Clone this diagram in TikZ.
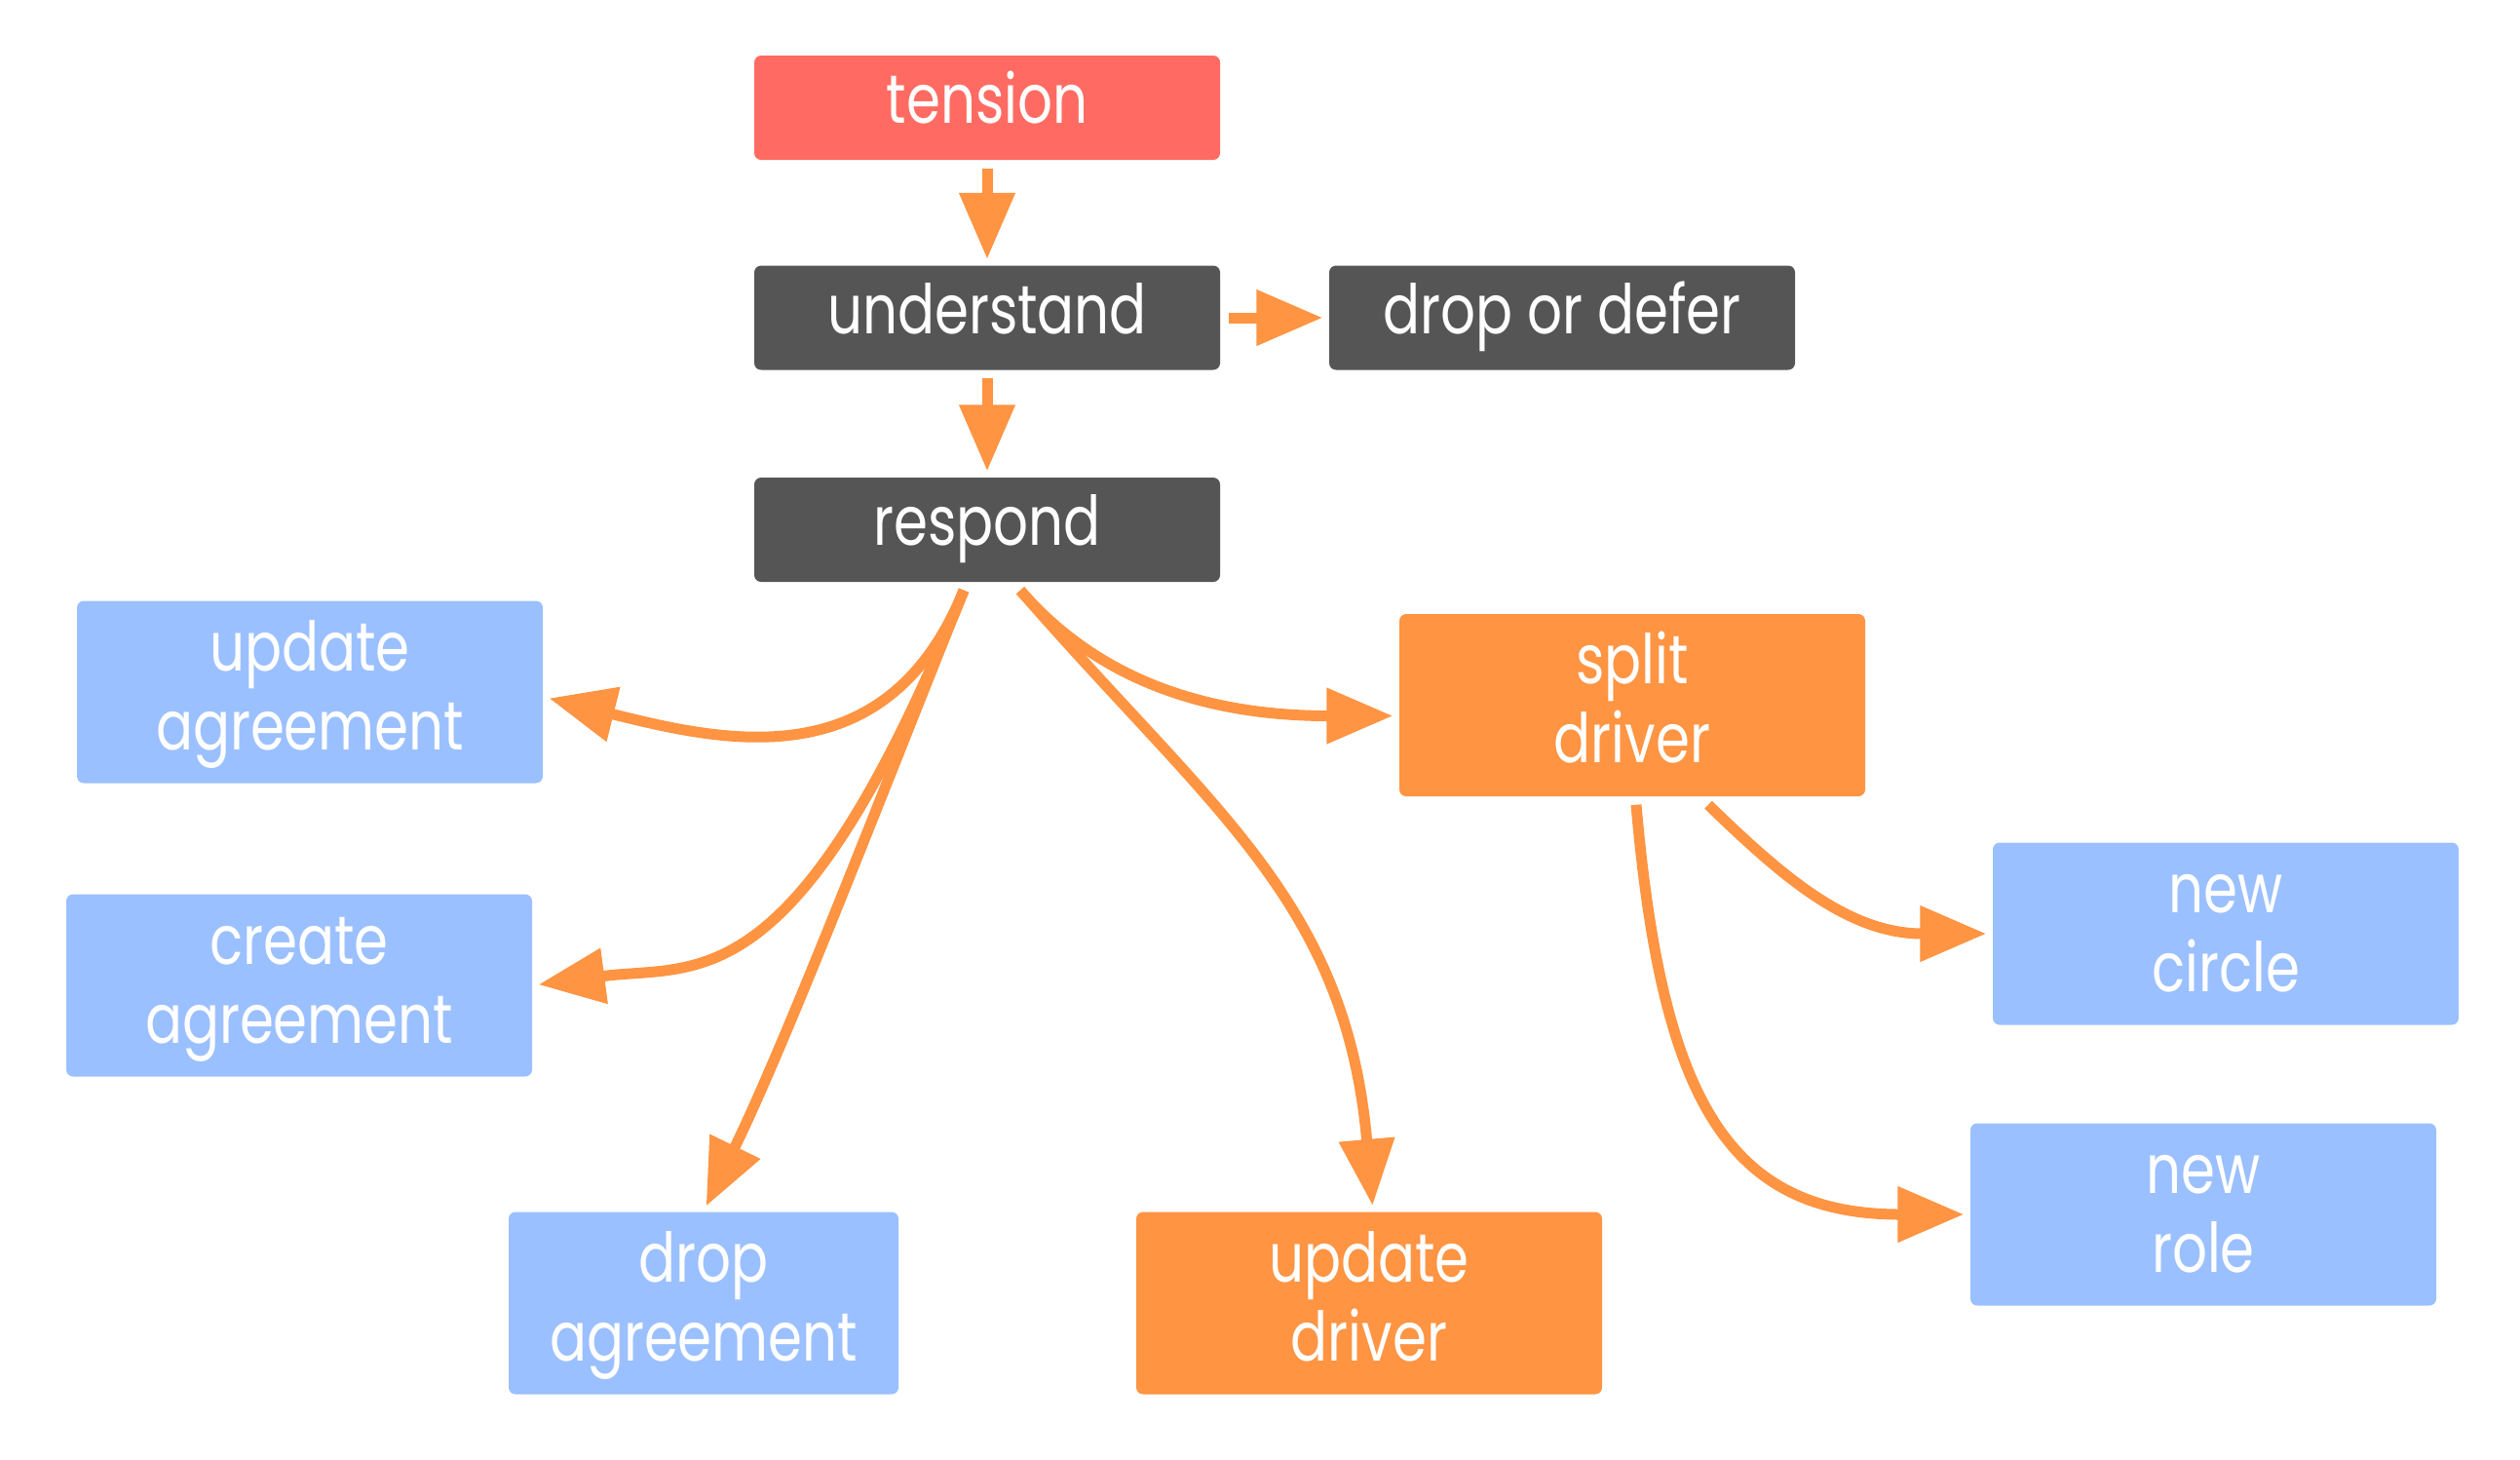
\documentclass[tikz,border=0pt]{standalone}
\usepackage{fontspec}
\setmainfont{Poppins}[FakeStretch=0.80]
\usepackage{tikz}
\usetikzlibrary{arrows.meta}
\definecolor{tensred}{RGB}{255,107,98}
\definecolor{dgray}  {RGB}{85,85,85}
\definecolor{flowor} {RGB}{255,148,66}
\definecolor{lblue}  {RGB}{155,192,255}
\newcommand\boxfont{\fontsize{20}{23}\selectfont}

\begin{document}
\begin{tikzpicture}[
    box/.style={rectangle, rounded corners=0.07cm, inner sep=0pt,
                minimum width=4.78cm, minimum height=1.07cm,
                text=white, font=\boxfont, align=center,
                execute at begin node=\strut, execute at end node=\strut},
    tallbox/.style={box, minimum height=1.87cm,
                    execute at begin node=\rule{0pt}{40.5pt}},
    redbox/.style={box, fill=tensred},
    graybox/.style={box, fill=dgray},
    bluebox/.style={tallbox, fill=lblue},
    orbox/.style={tallbox, fill=flowor},
    flow/.style={draw=flowor, line width=0.11cm,
                 -{Triangle[length=0.68cm, width=0.55cm, sep=0.06cm]}},
    dashflow/.style={flow, dash pattern=on 0.3cm off 0.15cm,
                     shorten <=0.08cm}]
  \useasboundingbox (0,0) rectangle (25.86,-14.97);

  % triage
  \node[redbox]  (tension)    at (10.13,-1.105) {tension};
  \node[graybox] (understand) at (10.13,-3.26)  {understand};
  \node[graybox] (dropdefer)  at (16.03,-3.26)  {drop or defer};
  \node[graybox] (respond)    at (10.13,-5.435) {respond};

  % responses
  \node[bluebox] (upagr)  at (3.18,-7.10)  {update\\agreement};
  \node[bluebox] (creagr) at (3.07,-10.11) {create\\agreement};
  \node[bluebox, minimum width=4.00cm] (dropagr) at (7.22,-13.37) {drop\\agreement};
  \node[orbox]   (updriver)    at (14.05,-13.37) {update\\driver};
  \node[orbox]   (splitdriver) at (16.75,-7.235) {split\\driver};
  \node[bluebox] (newcircle)   at (22.84,-9.58)  {new\\circle};
  \node[bluebox] (newrole)     at (22.61,-12.46) {new\\role};

  \draw[dashflow] (tension) -- (understand);
  \draw[dashflow] (understand) -- (dropdefer);
  \draw[dashflow] (understand) -- (respond);

  \coordinate (rl) at ([xshift=-0.24cm, yshift=-0.08cm]respond.south);
  \coordinate (rr) at ([xshift=0.34cm, yshift=-0.08cm]respond.south);
  \coordinate (sl) at ([xshift=0.04cm, yshift=-0.08cm]splitdriver.south);
  \coordinate (sr) at ([xshift=0.78cm, yshift=-0.08cm]splitdriver.south);

  \draw[flow] (rl) .. controls +(248:2.1) and +(-14:1.9) .. ([yshift=-0.05cm]upagr.east);
  \draw[flow] (rl) .. controls +(248:4.6) and +(7.5:1.7) .. (creagr.east);
  \draw[flow] (rl) .. controls +(248:2) and +(64:2) .. (dropagr.north);
  \draw[flow] (rr) .. controls +(311:3.0) and +(95:3.2) .. ([xshift=0.04cm]updriver.north);
  \draw[flow] (rr) .. controls +(311:1.2) and +(180:2.0) .. ([yshift=-0.11cm]splitdriver.west);
  \draw[flow] (sr) .. controls +(316:1.0) and +(180:1.5) .. (newcircle.west);
  \draw[flow] (sl) .. controls +(275:3.0) and +(180:2.5) .. (newrole.west);
\end{tikzpicture}
\end{document}
